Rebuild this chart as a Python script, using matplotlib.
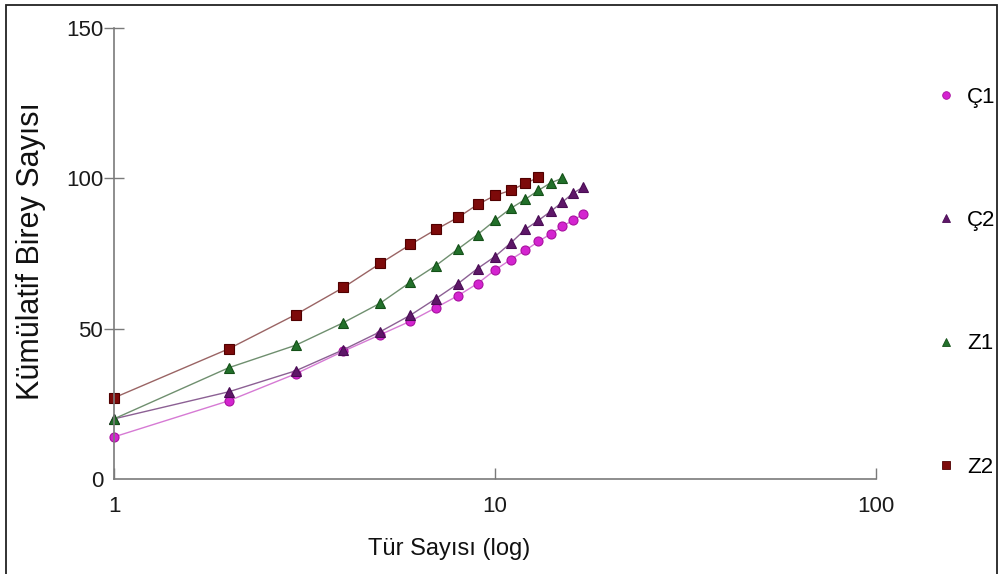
import matplotlib
matplotlib.use("Agg")
import matplotlib.pyplot as plt
from matplotlib.lines import Line2D
from matplotlib.patches import Rectangle
from matplotlib.ticker import FixedLocator, NullLocator, FixedFormatter

# ---- data ----
species_c1 = [1, 2, 3, 4, 5, 6, 7, 8, 9, 10, 11, 12, 13, 14, 15, 16, 17]
indiv_c1 = [14, 26, 35, 42.5, 48, 52.5, 57, 61, 65, 69.5, 73, 76, 79, 81.5, 84, 86, 88]

species_c2 = [1, 2, 3, 4, 5, 6, 7, 8, 9, 10, 11, 12, 13, 14, 15, 16, 17]
indiv_c2 = [20, 29, 36, 43, 49, 54.5, 60, 65, 70, 74, 78.5, 83, 86, 89, 92, 95, 97]

species_z1 = [1, 2, 3, 4, 5, 6, 7, 8, 9, 10, 11, 12, 13, 14, 15]
indiv_z1 = [20, 37, 44.5, 52, 58.5, 65.5, 71, 76.5, 81.3, 86, 90, 93, 96, 98.5, 100]

species_z2 = [1, 2, 3, 4, 5, 6, 7, 8, 9, 10, 11, 12, 13]
indiv_z2 = [27, 43.3, 54.7, 63.7, 71.7, 78, 83, 87, 91.3, 94.3, 96, 98.3, 100.3]

labels = ["Ç1", "Ç2", "Z1", "Z2"]
x_ticks = [1, 10, 100]
x_ticklabels = ["1", "10", "100"]
y_ticks = [0, 50, 100, 150]
y_ticklabels = ["0", "50", "100", "150"]

# ---- style ----
TICK_FONT = ["Liberation Sans", "DejaVu Sans"]
LABEL_FONT = ["Liberation Sans", "DejaVu Sans"]

fig = plt.figure(figsize=(10.01, 5.74), dpi=100)
W, H = 1001, 574
ax = fig.add_axes([114 / W, 1 - 479 / H, (876 - 114) / W, (479 - 28) / H])

series = [
    (species_c1, indiv_c1, "o", "#d424d0", "#a8109f", "#d67ad4", 6.5),
    (species_c2, indiv_c2, "^", "#5e1768", "#4a0c55", "#8c6094", 7.5),
    (species_z1, indiv_z1, "^", "#22702a", "#145018", "#6f8f6f", 7.5),
    (species_z2, indiv_z2, "s", "#7d0a0a", "#500000", "#9a6464", 7.0),
]
for (xs, ys, m, fc, ec, lc, ms), lab in zip(series, labels):
    ax.plot(xs, ys, color=lc, lw=1.0, marker=m, markersize=ms,
            markerfacecolor=fc, markeredgecolor=ec, markeredgewidth=0.8,
            label=lab, clip_on=False)

ax.set_xscale("log")
ax.set_xlim(1, 100)
ax.set_ylim(0, 150)
ax.xaxis.set_major_locator(FixedLocator(x_ticks))
ax.xaxis.set_major_formatter(FixedFormatter(x_ticklabels))
ax.xaxis.set_minor_locator(NullLocator())
ax.yaxis.set_major_locator(FixedLocator(y_ticks))
ax.yaxis.set_major_formatter(FixedFormatter(y_ticklabels))

for s in ["top", "right"]:
    ax.spines[s].set_visible(False)
for s in ["left", "bottom"]:
    ax.spines[s].set_color("#7a7a7a")
    ax.spines[s].set_linewidth(1.2)

ax.tick_params(axis="y", direction="inout", length=14.5, width=1.0,
               color="#7a7a7a", pad=0.5, labelsize=16)
ax.tick_params(axis="x", direction="in", length=8, width=1.0,
               color="#7a7a7a", pad=12, labelsize=16)
ax.yaxis.get_major_ticks()[0].tick1line.set_visible(False)
for t in ax.get_xticklabels() + ax.get_yticklabels():
    t.set_family(TICK_FONT)
    t.set_color("#1a1a1a")

fig.text(31 / W, 1 - 251 / H, "Kümülatif Birey Sayısı", rotation=90,
         ha="center", va="center", fontsize=22, family=LABEL_FONT, color="#111111")
fig.text(449 / W, 1 - 549 / H, "Tür Sayısı (log)", ha="center", va="center",
         fontsize=17, family=LABEL_FONT, color="#111111")

# legend
handles = [Line2D([], [], linestyle="none", marker=m, markersize=5.5,
                  markerfacecolor=fc, markeredgecolor=ec, markeredgewidth=0.6)
           for (_, _, m, fc, ec, _, _) in series]
fig.legend(handles, labels, loc="upper left",
           bbox_to_anchor=(935 / W, 1 - 87 / H), frameon=False,
           borderpad=0, borderaxespad=0, handlelength=1.0,
           handletextpad=0.45, labelspacing=4.6,
           prop={"family": TICK_FONT, "size": 16})

# outer frame
fig.add_artist(Rectangle((6 / W, -0.01), (997 - 6) / W, 1.01 - 5 / H,
                         transform=fig.transFigure, fill=False,
                         edgecolor="#222222", linewidth=1.3))

fig.savefig("out.png", dpi=100)
